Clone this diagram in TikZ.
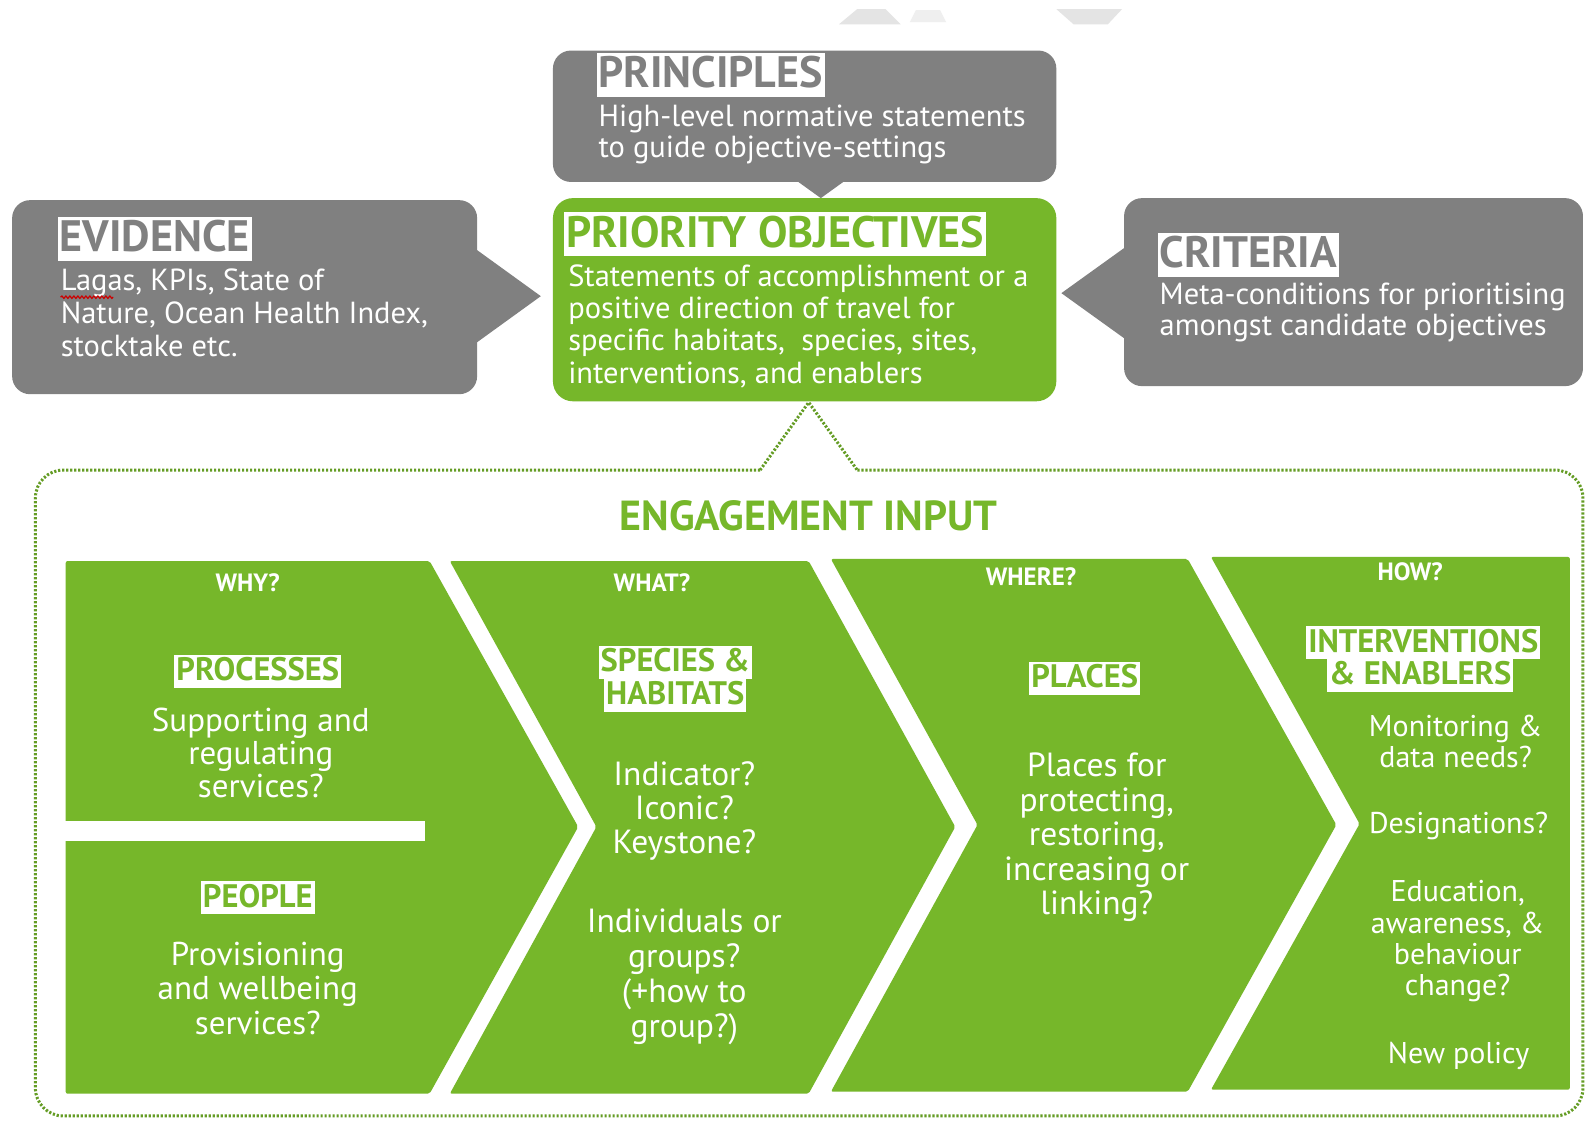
\documentclass[tikz,border=0pt]{standalone}
\usepackage{fontspec}
\setmainfont{PT Sans}
\usetikzlibrary{decorations.pathmorphing}
\definecolor{eugreen}{RGB}{118,183,42}
\definecolor{eugrey}{RGB}{128,128,128}
\definecolor{faintgrey}{RGB}{228,228,228}
\newcommand\fsz[2]{\fontsize{#1}{#2}\selectfont}
\begin{document}
\begin{tikzpicture}[x=1.011pt,y=-1.011pt,
  greybox/.style={fill=eugrey, rounded corners=18pt},
  greenbox/.style={fill=eugreen, rounded corners=20pt},
  chevron/.style={fill=eugreen, rounded corners=2pt},
  dotline/.style={draw=eugreen!85!black, line width=3pt, dash pattern=on 2.2pt off 1.8pt},
  bigtitle/.style={fill=white, inner xsep=2pt, inner ysep=3pt, text height=32pt, text depth=6pt,
    font=\fsz{44}{48}\bfseries, anchor=north west},
  smalltitle/.style={fill=white, text=eugreen, inner xsep=2pt, inner ysep=2pt, text height=24pt, text depth=5pt,
    font=\fsz{32.5}{36}\bfseries},
  boxbody/.style={text=white, inner sep=0pt, align=left, anchor=base west},
  chevbody/.style={text=white, inner sep=0pt, align=center, anchor=base},
  header/.style={text=white, inner sep=0pt, font=\fsz{25}{28}\bfseries}]
\useasboundingbox[fill=white] (0,0) rectangle (1568,1108);

% faint cropped shapes at the top
\fill[faintgrey] (830,24) -- (848,9) -- (876,9) -- (891,24) -- cycle;
\fill[faintgrey!60] (900,22) -- (906,10) -- (930,10) -- (936,22) -- cycle;
\fill[faintgrey] (1045,9) -- (1110,9) -- (1096,24) -- (1062,24) -- cycle;

% ---- PRINCIPLES callout
\fill[greybox] (547,50) rectangle (1045,180);
\fill[eugrey] (787,178) -- (837,178) -- (812,196) -- cycle;
\node[bigtitle, text=eugrey] (printitle) at (590,52) {PRINCIPLES};
\node[boxbody, font=\fsz{30.5}{31}] (prinbody) at (592,156)
  {High-level normative statements\\to guide objective-settings};

% ---- EVIDENCE callout
\fill[greybox] (12,198) rectangle (472,390);
\fill[eugrey] (470,246) -- (535,293) -- (470,340) -- cycle;
\node[bigtitle, text=eugrey] (evtitle) at (57,214) {EVIDENCE};
\node[boxbody, font=\fsz{30.5}{33}] (evbody) at (60,353)
  {Lagas, KPIs, State of\\Nature, Ocean Health Index,\\stocktake etc.};
\coordinate (squigA) at (60,294);
\draw[red!80!black, line width=1.2pt, decorate, decoration={snake, amplitude=1.2pt, segment length=4pt}]
  (squigA) -- ++(52,0);

% ---- PRIORITY OBJECTIVES
\fill[greenbox] (547,196) rectangle (1045,397);
\coordinate (prioS) at (800,398);
\node[bigtitle, text=eugreen] (priotitle) at (558,210) {PRIORITY OBJECTIVES};
\node[boxbody, font=\fsz{30.5}{32.3}] (priobody) at (562,379)
  {Statements of accomplishment or a\\positive direction of travel for\\specific habitats,\ \ species, sites,\\interventions, and enablers};

% ---- CRITERIA callout
\fill[greybox] (1112,196) rectangle (1566,382);
\fill[eugrey] (1114,244) -- (1050,290) -- (1114,336) -- cycle;
\node[bigtitle, text=eugrey] (crittitle) at (1145,230) {CRITERIA};
\node[boxbody, font=\fsz{30.5}{31}] (critbody) at (1147,332)
  {Meta-conditions for prioritising\\amongst candidate objectives};

% ---- dotted engagement frame
\coordinate (notchL) at (752,465);
\coordinate (notchR) at (848,465);
\draw[dotline] (notchL) -- (prioS) -- (notchR);
\draw[dotline, rounded corners=28pt] (notchL) -- (35,465) -- (35,1104) -- (1566,1104) -- (1566,465) -- (notchR);
\node[text=eugreen, font=\fsz{42}{46}\bfseries] (engtitle) at (800,510) {ENGAGEMENT INPUT};

% ---- chevrons
\fill[chevron] (65,555) -- (425,555) -- (572,818) -- (425,1082) -- (65,1082) -- cycle;
\fill[white] (60,812) rectangle (420,832);
\fill[chevron] (445,555) -- (800,555) -- (945,818) -- (800,1082) -- (445,1082) -- (590,818) -- cycle;
\fill[chevron] (822,553) -- (1175,553) -- (1322,816) -- (1175,1080) -- (822,1080) -- (967,816) -- cycle;
\fill[chevron] (1198,551) -- (1553,551) -- (1553,1078) -- (1198,1078) -- (1345,815) -- cycle;

% WHY
\node[header] (why) at (245,576) {WHY?};
\node[smalltitle] (proc) at (255,664) {PROCESSES};
\node[chevbody, font=\fsz{33}{33}] (procbody) at (258,789) {Supporting and\\regulating\\services?};
\node[smalltitle] (people) at (255,888) {PEOPLE};
\node[chevbody, font=\fsz{33}{34.5}] (peoplebody) at (255,1023) {Provisioning\\and wellbeing\\services?};

% WHAT
\node[header] (what) at (645,576) {WHAT?};
\node[smalltitle] (species) at (668,655) {SPECIES \&};
\node[smalltitle] (habitats) at (668,688) {HABITATS};
\node[chevbody, font=\fsz{33.5}{34}] (indic) at (677,844) {Indicator?\\Iconic?\\Keystone?};
\node[chevbody, font=\fsz{33.5}{35}] (indiv) at (677,1026) {Individuals or\\groups?\\(+how to\\group?)};

% WHERE
\node[header] (where) at (1020,571) {WHERE?};
\node[smalltitle] (places) at (1073,671) {PLACES};
\node[chevbody, font=\fsz{33.5}{34.5}] (placesbody) at (1085,905) {Places for\\protecting,\\restoring,\\increasing or\\linking?};

% HOW
\node[header] (how) at (1395,566) {HOW?};
\node[smalltitle] (interv) at (1408,636) {INTERVENTIONS};
\node[smalltitle] (enabl) at (1405,668) {\& ENABLERS};
\node[chevbody, font=\fsz{30}{30.5}] (monit) at (1440,759) {Monitoring \&\\data needs?};
\node[chevbody, font=\fsz{30}{31}] (design) at (1443,825) {Designations?};
\node[chevbody, font=\fsz{30}{31.3}] (educ) at (1442,985) {Education,\\awareness, \&\\behaviour\\change?};
\node[chevbody, font=\fsz{30}{31}] (policy) at (1443,1052) {New policy};
\end{tikzpicture}
\end{document}
